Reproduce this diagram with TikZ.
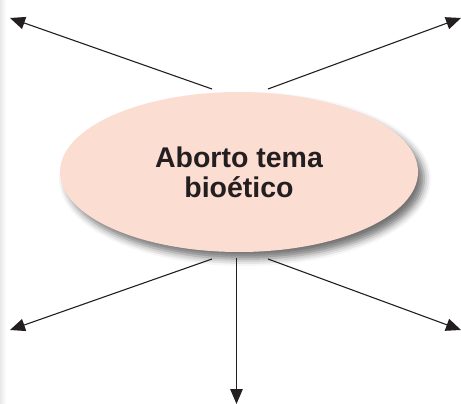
\documentclass[tikz,border=0pt]{standalone}
\usepackage{fontspec}
\setmainfont{Liberation Sans}
\usetikzlibrary{arrows.meta,shapes.geometric,shadows.blur}
\definecolor{inkc}{RGB}{35,31,32}
\definecolor{pinkfill}{RGB}{251,221,210}
\tikzset{
  topic/.style={ellipse, fill=pinkfill, minimum width=358pt, minimum height=160pt,
    inner sep=0pt, align=center, text=inkc,
    font=\bfseries\fontsize{28.5}{30}\selectfont,
    blur shadow={shadow xshift=6pt, shadow yshift=-7pt, shadow blur radius=7pt, shadow opacity=55}},
  link/.style={draw=inkc, line width=1.1pt, -{Triangle[length=15pt,width=12.5pt]}}
}
\begin{document}
\begin{tikzpicture}[x=1pt,y=-1pt]
\useasboundingbox (0,0) rectangle (461,404);
\fill[left color=black!9, right color=white] (0,0) rectangle (6,404);
\node[topic] (e) at (239,172) {Aborto tema\\bio\'etico};
\coordinate (s1) at (212,89);
\coordinate (s2) at (268,89);
\coordinate (s3) at (212,259);
\coordinate (s4) at (268,259);
\coordinate (s5) at (236.5,258);
\coordinate (t1) at (10,18);
\coordinate (t2) at (461,18);
\coordinate (t3) at (10,330);
\coordinate (t4) at (461,330);
\coordinate (t5) at (236.5,404);
\draw[link] (s1) -- (t1);
\draw[link] (s2) -- (t2);
\draw[link] (s3) -- (t3);
\draw[link] (s4) -- (t4);
\draw[link] (s5) -- (t5);
\end{tikzpicture}
\end{document}
